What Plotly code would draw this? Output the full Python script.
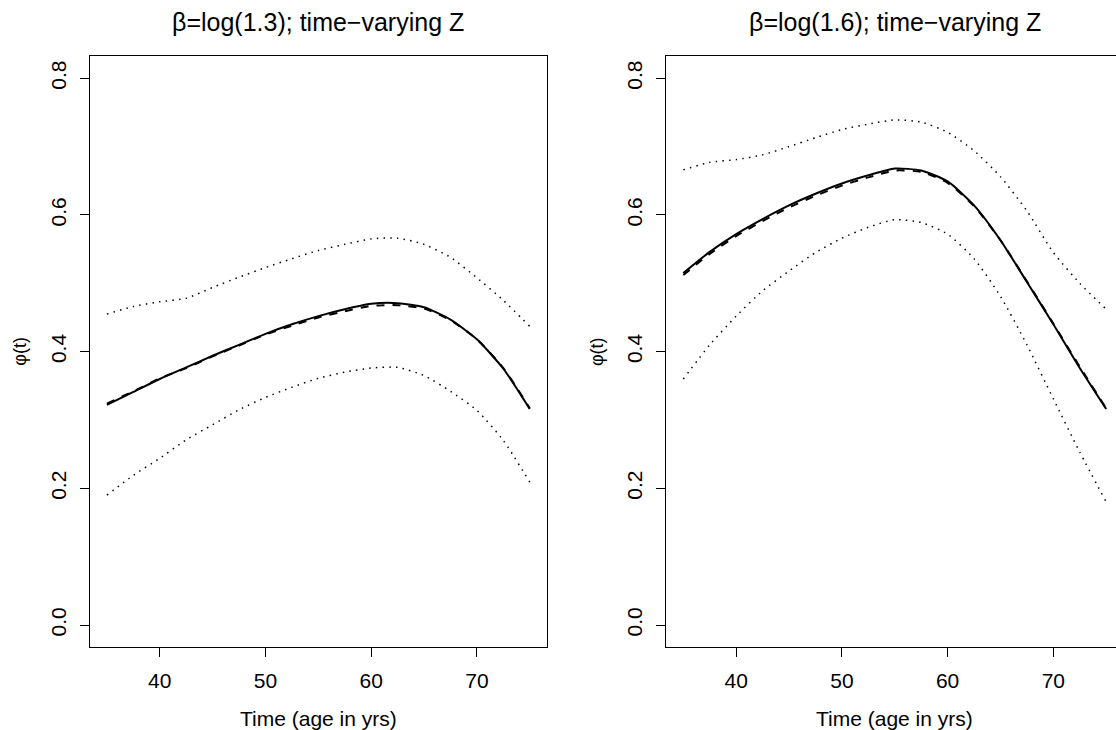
import plotly.graph_objects as go

# ---------------- data ----------------
age = [35, 37.5, 40, 42.5, 45, 47.5, 50, 52.5, 55, 57.5, 60, 62.5, 65, 67.5, 70, 72.5, 75]

# panel 1: beta = log(1.3)
p1_est   = [0.322, 0.341, 0.360, 0.377, 0.394, 0.410, 0.426, 0.440, 0.452, 0.462, 0.470, 0.471, 0.465, 0.447, 0.418, 0.375, 0.316]
p1_true  = [0.324, 0.342, 0.361, 0.376, 0.393, 0.409, 0.425, 0.438, 0.450, 0.459, 0.467, 0.468, 0.463, 0.446, 0.418, 0.376, 0.317]
p1_upper = [0.455, 0.466, 0.473, 0.478, 0.494, 0.509, 0.523, 0.536, 0.548, 0.557, 0.565, 0.566, 0.557, 0.538, 0.508, 0.475, 0.437]
p1_lower = [0.190, 0.219, 0.244, 0.271, 0.293, 0.315, 0.333, 0.348, 0.361, 0.370, 0.376, 0.377, 0.365, 0.342, 0.314, 0.270, 0.209]

# panel 2: beta = log(1.6)
p2_est   = [0.515, 0.546, 0.572, 0.594, 0.614, 0.631, 0.646, 0.658, 0.668, 0.665, 0.649, 0.614, 0.563, 0.502, 0.440, 0.376, 0.316]
p2_true  = [0.512, 0.543, 0.569, 0.591, 0.611, 0.628, 0.643, 0.655, 0.665, 0.663, 0.647, 0.613, 0.563, 0.503, 0.441, 0.378, 0.317]
p2_upper = [0.666, 0.677, 0.681, 0.688, 0.700, 0.713, 0.725, 0.733, 0.739, 0.736, 0.721, 0.694, 0.656, 0.606, 0.545, 0.500, 0.462]
p2_lower = [0.360, 0.410, 0.452, 0.489, 0.518, 0.545, 0.566, 0.582, 0.593, 0.589, 0.572, 0.536, 0.481, 0.410, 0.331, 0.253, 0.180]

titles = ["β=log(1.3); time−varying Z", "β=log(1.6); time−varying Z"]
x_label = "Time (age in yrs)"
y_label = "φ(t)"
x_ticks = [40, 50, 60, 70]
y_ticks = [0.0, 0.2, 0.4, 0.6, 0.8]
y_ticktext = ["0.0", "0.2", "0.4", "0.6", "0.8"]

# ---------------- layout helpers ----------------
W, H = 1116, 730
FONT = "Liberation Sans, Arial, Helvetica, sans-serif"

def fx(p):
    return p / W

def fy(p):
    return 1 - p / H

fig = go.Figure()

panels = [
    (p1_est, p1_true, p1_upper, p1_lower, "x", "y"),
    (p2_est, p2_true, p2_upper, p2_lower, "x2", "y2"),
]

for est, true, up, lo, xa, ya in panels:
    fig.add_trace(go.Scatter(x=age, y=up, mode="lines", xaxis=xa, yaxis=ya,
                             line=dict(color="black", width=1.5, dash="1.5px,5.2px", shape="spline", smoothing=0.6),
                             showlegend=False, hoverinfo="skip"))
    fig.add_trace(go.Scatter(x=age, y=lo, mode="lines", xaxis=xa, yaxis=ya,
                             line=dict(color="black", width=1.5, dash="1.5px,5.2px", shape="spline", smoothing=0.6),
                             showlegend=False, hoverinfo="skip"))
    fig.add_trace(go.Scatter(x=age, y=true, mode="lines", xaxis=xa, yaxis=ya,
                             line=dict(color="black", width=2, dash="8px,8px", shape="spline", smoothing=0.6),
                             showlegend=False, hoverinfo="skip"))
    fig.add_trace(go.Scatter(x=age, y=est, mode="lines", xaxis=xa, yaxis=ya,
                             line=dict(color="black", width=2, shape="spline", smoothing=0.6),
                             showlegend=False, hoverinfo="skip"))

# panel geometry (pixels)
L1, R1 = 90, 546.7
L2 = 666.4
TOP, BOT = 56.4, 646.9
px_per_unit = (R1 - L1) / (76.6 - 33.4)
x2_max = 33.4 + (W - L2) / px_per_unit

common_x = dict(showline=True, mirror=True, linecolor="black", linewidth=1,
                ticks="outside", ticklen=9, tickwidth=1, tickcolor="black",
                tickvals=x_ticks, showgrid=False, zeroline=False,
                tickfont=dict(family=FONT, size=21, color="black"),
                ticklabelstandoff=6)
common_y = dict(showline=True, mirror=True, linecolor="black", linewidth=1,
                ticks="outside", ticklen=9, tickwidth=1, tickcolor="black",
                tickvals=y_ticks, ticktext=y_ticktext, tickangle=-90,
                range=[-0.032, 0.832], showgrid=False, zeroline=False,
                tickfont=dict(family=FONT, size=21, color="black"),
                ticklabelstandoff=6)

fig.update_layout(
    width=W, height=H,
    margin=dict(l=0, r=0, t=0, b=0),
    paper_bgcolor="white", plot_bgcolor="white",
    font=dict(family=FONT, color="black"),
    xaxis=dict(domain=[fx(L1), fx(R1)], range=[33.4, 76.6], anchor="y", **common_x),
    yaxis=dict(domain=[fy(BOT), fy(TOP)], anchor="x", **common_y),
    xaxis2=dict(domain=[fx(L2), 1.0], range=[33.4, x2_max], anchor="y2", **common_x),
    yaxis2=dict(domain=[fy(BOT), fy(TOP)], anchor="x2", **common_y),
)

centers = [(L1 + R1) / 2, L2 + (R1 - L1) / 2]
ylab_x = [20, L2 - 70]
for i, c in enumerate(centers):
    fig.add_annotation(x=fx(c), y=fy(22), xref="paper", yref="paper", text=titles[i],
                       showarrow=False, xanchor="center", yanchor="middle",
                       font=dict(family=FONT, size=25, color="black"))
    fig.add_annotation(x=fx(c), y=fy(718), xref="paper", yref="paper", text=x_label,
                       showarrow=False, xanchor="center", yanchor="middle",
                       font=dict(family=FONT, size=21, color="black"))
    fig.add_annotation(x=fx(ylab_x[i]), y=fy((TOP + BOT) / 2), xref="paper", yref="paper", text=y_label,
                       showarrow=False, xanchor="center", yanchor="middle", textangle=-90,
                       font=dict(family=FONT, size=18, color="black"))

fig.write_html("out.html")
